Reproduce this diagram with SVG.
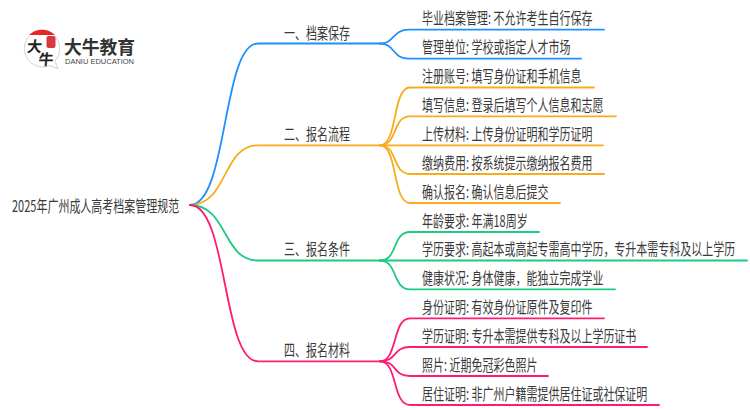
<svg xmlns="http://www.w3.org/2000/svg" width="750" height="410" viewBox="0 0 750 410">
<style>
text{font-family:"Noto Sans CJK SC","Noto Sans",sans-serif;font-size:16px;fill:#3a3a3a}
.c{fill:none;stroke-width:1.8;stroke-linecap:round}
.b{stroke:#1e90ff}.o{stroke:#f9ab1c}.g{stroke:#1ccb80}.p{stroke:#ff1a75}
</style>
<rect width="750" height="410" fill="#fff"/>
<g id="logo">
<path d="M42 30A18.500 18.500 0 1 0 50 65.500L58 69L55 61A18.500 18.500 0 0 0 42 30Z" fill="#fff" stroke="#c8c8c8" stroke-width="0.8"/>
<path d="M29 35A18.500 18.500 0 0 1 55 35Z" fill="#e8262a"/>
<rect x="46.500" y="36" width="9" height="12" rx="2" fill="#d8393f"/>
<text transform="translate(26.500,52) skewX(-6)" style="font-size:15px;font-weight:700;fill:#222">大</text>
<text transform="translate(38,65) skewX(-6)" style="font-size:15px;font-weight:700;fill:#222">牛</text>
<text x="64" y="54" textLength="71" lengthAdjust="spacingAndGlyphs" style="font-size:18px;font-weight:700;fill:#333">大牛教育</text>
<text x="65" y="63.500" textLength="69" lengthAdjust="spacingAndGlyphs" style="font-size:7px;font-family:'Liberation Sans',sans-serif;fill:#444">DANIU EDUCATION</text>
</g>
<g id="connectors">
<path class="c b" d="M190 205C228 205 222 43.500 258 43.500H380"/>
<path class="c b" d="M380 43.500C395 43.500 392 29.700 409 29.700H604"/>
<path class="c b" d="M380 43.500C395 43.500 392 58.700 409 58.700H581"/>
<path class="c o" d="M190 205C228 205 222 145.300 258 145.300H380"/>
<path class="c o" d="M380 145.300C398 145.300 392 87.500 410 87.500H594"/>
<path class="c o" d="M380 145.300C398 145.300 392 116.300 410 116.300H616"/>
<path class="c o" d="M380 145.300H603"/>
<path class="c o" d="M380 145.300C398 145.300 392 174 410 174H604"/>
<path class="c o" d="M380 145.300C398 145.300 392 203 410 203H560"/>
<path class="c g" d="M190 205C228 205 222 260.500 258 260.500H380"/>
<path class="c g" d="M380 260.500C398 260.500 392 232 410 232H539"/>
<path class="c g" d="M380 260.500H747"/>
<path class="c g" d="M380 260.500C398 260.500 392 289.300 410 289.300H615"/>
<path class="c p" d="M190 205C228 205 222 361.300 258 361.300H380"/>
<path class="c p" d="M380 361.300C398 361.300 392 318.300 410 318.300H604"/>
<path class="c p" d="M380 361.300C398 361.300 392 347 410 347H647"/>
<path class="c p" d="M380 361.300C398 361.300 392 376 410 376H548"/>
<path class="c p" d="M380 361.300C398 361.300 392 405 410 405H659"/>
</g>
<g id="root"><text transform="translate(12,211.500) scale(.6875,1)">2025年广州成人高考档案管理规范</text></g>
<g id="b1"><text transform="translate(284,38.500) scale(.6875,1)">一、档案保存</text></g>
<g id="b2"><text transform="translate(284,139.500) scale(.6875,1)">二、报名流程</text></g>
<g id="b3"><text transform="translate(284,255) scale(.6875,1)">三、报名条件</text></g>
<g id="b4"><text transform="translate(284,356) scale(.6875,1)">四、报名材料</text></g>
<g id="l1"><text transform="translate(422,24) scale(.6875,1)">毕业档案管理: 不允许考生自行保存</text></g>
<g id="l2"><text transform="translate(422,53) scale(.6875,1)">管理单位: 学校或指定人才市场</text></g>
<g id="l3"><text transform="translate(422,81.500) scale(.6875,1)">注册账号: 填写身份证和手机信息</text></g>
<g id="l4"><text transform="translate(422,110.500) scale(.6875,1)">填写信息: 登录后填写个人信息和志愿</text></g>
<g id="l5"><text transform="translate(422,139.500) scale(.6875,1)">上传材料: 上传身份证明和学历证明</text></g>
<g id="l6"><text transform="translate(422,168.500) scale(.6875,1)">缴纳费用: 按系统提示缴纳报名费用</text></g>
<g id="l7"><text transform="translate(422,197.500) scale(.6875,1)">确认报名: 确认信息后提交</text></g>
<g id="l8"><text transform="translate(422,226.500) scale(.6875,1)">年龄要求: 年满18周岁</text></g>
<g id="l9"><text transform="translate(422,255) scale(.6875,1)">学历要求: 高起本或高起专需高中学历，专升本需专科及以上学历</text></g>
<g id="l10"><text transform="translate(422,283.500) scale(.6875,1)">健康状况: 身体健康，能独立完成学业</text></g>
<g id="l11"><text transform="translate(422,312.500) scale(.6875,1)">身份证明: 有效身份证原件及复印件</text></g>
<g id="l12"><text transform="translate(422,341.500) scale(.6875,1)">学历证明: 专升本需提供专科及以上学历证书</text></g>
<g id="l13"><text transform="translate(422,370.500) scale(.6875,1)">照片: 近期免冠彩色照片</text></g>
<g id="l14"><text transform="translate(422,399.500) scale(.6875,1)">居住证明: 非广州户籍需提供居住证或社保证明</text></g>
</svg>
